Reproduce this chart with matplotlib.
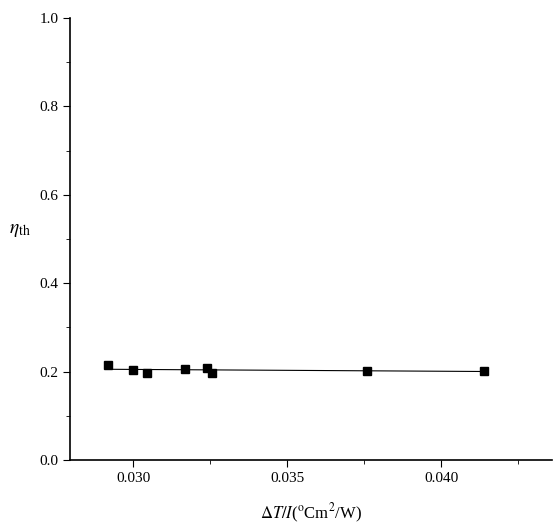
import numpy as np
import matplotlib
matplotlib.use("Agg")
import matplotlib.pyplot as plt
from matplotlib.ticker import MultipleLocator

plt.rcParams['font.family'] = ['Liberation Serif', 'DejaVu Serif']
plt.rcParams['mathtext.fontset'] = 'stix'

x_vals = [0.0292, 0.0300, 0.03045, 0.0317, 0.0324, 0.03255, 0.0376, 0.0414]
eta_vals = [0.215, 0.203, 0.196, 0.206, 0.209, 0.197, 0.201, 0.202]

fig = plt.figure(figsize=(5.54, 5.30), dpi=100)
ax = fig.add_axes([70/554, 70/530, 482/554, 442/530])

ax.plot(x_vals, eta_vals, 's', color='black', markersize=6)
k, b = np.polyfit(x_vals, eta_vals, 1)
xf = np.array([min(x_vals), max(x_vals)])
ax.plot(xf, k * xf + b, color='black', lw=0.8)

ax.set_xlim(0.02795, 0.0436)
ax.set_ylim(0, 1.0)
ax.xaxis.set_major_locator(MultipleLocator(0.005))
ax.xaxis.set_minor_locator(MultipleLocator(0.0025))
ax.yaxis.set_major_locator(MultipleLocator(0.2))
ax.yaxis.set_minor_locator(MultipleLocator(0.1))
ax.xaxis.set_major_formatter(plt.FormatStrFormatter('%.3f'))
ax.yaxis.set_major_formatter(plt.FormatStrFormatter('%.1f'))
for s in ['top', 'right']:
    ax.spines[s].set_visible(False)
ax.spines['left'].set_linewidth(1.2)
ax.spines['bottom'].set_linewidth(1.2)
ax.tick_params(which='major', length=5, labelsize=11)
ax.tick_params(which='minor', length=3)

ax.set_xlabel(r'$\Delta T/I$(${}^{\rm o}$Cm$^2$/W)', fontsize=12, labelpad=12)
ax.set_ylabel(r'$\eta_{\rm th}$', fontsize=14, rotation=0, labelpad=14)

fig.savefig('out.png', dpi=100)
